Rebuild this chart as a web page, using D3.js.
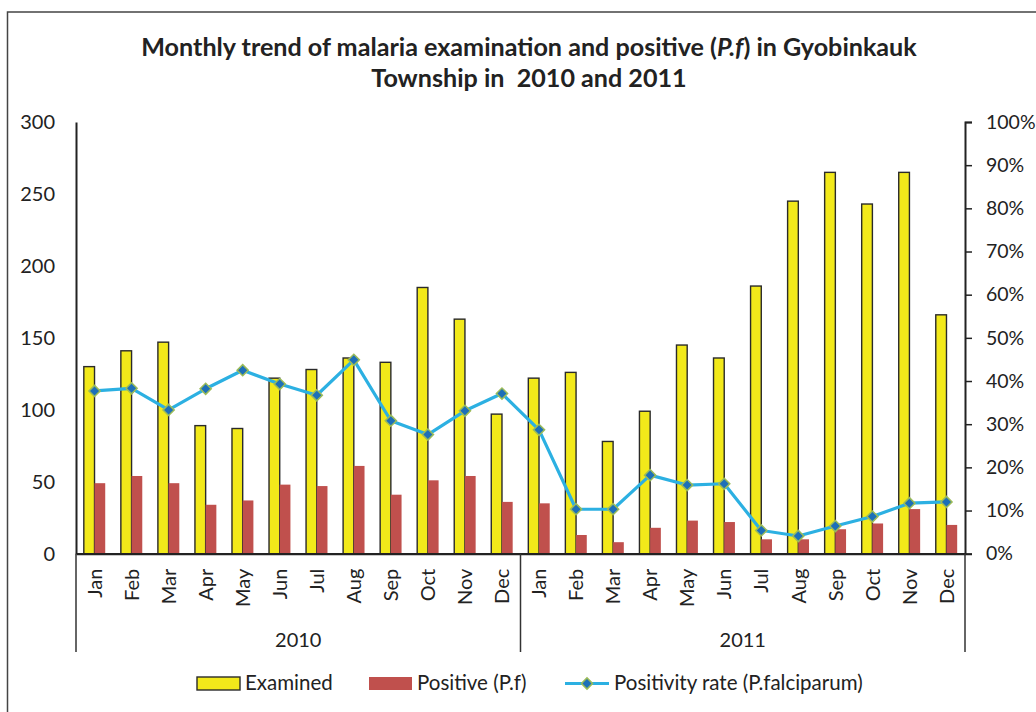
<!DOCTYPE html>
<html>
<head>
<meta charset="utf-8">
<script src="https://cdn.jsdelivr.net/npm/d3@7"></script>
<style>
  body { margin: 0; background: #fff; }
  text { font-family: Lato, "Open Sans", sans-serif; fill: #222; }
</style>
</head>
<body>
<div id="chart"></div>
<script>
// data
const years = ['2010', '2011']
const months = ['Jan', 'Feb', 'Mar', 'Apr', 'May', 'Jun', 'Jul', 'Aug', 'Sep', 'Oct', 'Nov', 'Dec']
const examined2010 = [130, 141, 147, 89, 87, 122, 128, 136, 133, 185, 163, 97]
const examined2011 = [122, 126, 78, 99, 145, 136, 186, 245, 265, 243, 265, 166]
const positive2010 = [49, 54, 49, 34, 37, 48, 47, 61, 41, 51, 54, 36]
const positive2011 = [35, 13, 8, 18, 23, 22, 10, 10, 17, 21, 31, 20]
const rate2010 = [0.377, 0.383, 0.333, 0.382, 0.425, 0.393, 0.367, 0.449, 0.308, 0.276, 0.331, 0.371]
const rate2011 = [0.287, 0.103, 0.103, 0.182, 0.159, 0.162, 0.054, 0.041, 0.064, 0.086, 0.117, 0.120]
const leftTicks = [0, 50, 100, 150, 200, 250, 300]
const rightTicks = [0, 0.1, 0.2, 0.3, 0.4, 0.5, 0.6, 0.7, 0.8, 0.9, 1]
const seriesNames = ['Examined', 'Positive (P.f)', 'Positivity rate (P.falciparum)']

const W = 1036
const H = 712
const plotLeft = 76
const plotRight = 965
const plotTop = 122
const plotBottom = 553.7

const yellow = '#f2e91a'
const red = '#c0504d'
const blue = '#2cb0e2'
const markerFill = '#1d6fb8'
const markerStroke = '#9bbb59'

const rows = []
years.forEach(function (yr, i) {
  const ex = i === 0 ? examined2010 : examined2011
  const po = i === 0 ? positive2010 : positive2011
  const ra = i === 0 ? rate2010 : rate2011
  months.forEach(function (m, j) {
    rows.push({key: yr + '-' + m, year: yr, month: m, examined: ex[j], positive: po[j], rate: ra[j]})
  })
})

const svg = d3.select('#chart').append('svg')
  .attr('width', W)
  .attr('height', H)

// outer chart border
svg.append('rect')
  .attr('x', 7.5).attr('y', 12)
  .attr('width', W + 20).attr('height', H + 20)
  .attr('fill', 'none')
  .attr('stroke', '#444')
  .attr('stroke-width', 1.5)

// title
const title = svg.append('g').attr('font-weight', 'bold')
const t1 = title.append('text')
  .attr('x', 529).attr('y', 56)
  .attr('text-anchor', 'middle')
  .attr('font-size', 20)
t1.append('tspan').text('Monthly trend of malaria examination and positive (')
t1.append('tspan').attr('font-style', 'italic').text('P.f')
t1.append('tspan').text(') in Gyobinkauk')
const fs = 20 * 776 / t1.node().getComputedTextLength()
t1.attr('font-size', fs)
title.append('text')
  .attr('x', 529).attr('y', 87)
  .attr('text-anchor', 'middle')
  .attr('font-size', fs)
  .style('white-space', 'pre')
  .text('Township in  2010 and 2011')

const x = d3.scaleBand()
  .domain(rows.map(d => d.key))
  .range([plotLeft, plotRight])

const xSub = d3.scaleBand()
  .domain(['examined', 'positive'])
  .range([0, x.bandwidth()])
  .paddingOuter(0.73)

const y = d3.scaleLinear().domain([0, 300]).range([plotBottom, plotTop])
const yR = d3.scaleLinear().domain([0, 1]).range([plotBottom, plotTop])

// bars
const groups = svg.append('g').selectAll('g')
  .data(rows)
  .enter()
  .append('g')
  .attr('transform', d => 'translate(' + x(d.key) + ',0)')

groups.append('rect')
  .attr('x', xSub('examined'))
  .attr('y', d => y(d.examined))
  .attr('width', xSub.bandwidth())
  .attr('height', d => y(0) - y(d.examined))
  .attr('fill', yellow)
  .attr('stroke', '#2a2a2a')
  .attr('stroke-width', 1.4)

groups.append('rect')
  .attr('x', xSub('positive'))
  .attr('y', d => y(d.positive))
  .attr('width', xSub.bandwidth())
  .attr('height', d => y(0) - y(d.positive))
  .attr('fill', red)

// left axis
const axL = svg.append('g')
  .attr('transform', 'translate(' + plotLeft + ',0)')
  .call(d3.axisLeft(y).tickValues(leftTicks).tickSize(0).tickPadding(21))
axL.select('.domain').attr('stroke', '#222').attr('stroke-width', 2)
axL.selectAll('text').attr('font-size', 20).attr('fill', '#222')

// right axis, carried down as the outer category divider
const axR = svg.append('g')
  .attr('transform', 'translate(' + plotRight + ',0)')
  .call(d3.axisRight(yR).tickValues(rightTicks).tickSize(7).tickPadding(14).tickFormat(d3.format('.0%')))
axR.select('.domain').attr('stroke', '#222').attr('stroke-width', 2)
axR.selectAll('line').attr('stroke', '#222').attr('stroke-width', 1.5)
axR.selectAll('text').attr('font-size', 19.5).attr('fill', '#222')

// category axis
const axB = svg.append('g')
  .attr('transform', 'translate(0,' + plotBottom + ')')
  .call(d3.axisBottom(x).tickSize(0).tickFormat(d => d.split('-')[1]))
axB.select('.domain').attr('stroke', '#222').attr('stroke-width', 2.2)
axB.selectAll('text')
  .attr('font-size', 20)
  .attr('fill', '#222')
  .attr('text-anchor', 'end')
  .attr('transform', 'rotate(-90)')
  .attr('x', -15)
  .attr('y', 0)
  .attr('dy', '0.36em')

// year dividers and labels
const yearEdges = [plotLeft].concat(years.map(yr => x(yr + '-Dec') + x.bandwidth()))
svg.append('g').selectAll('line')
  .data(yearEdges)
  .enter()
  .append('line')
  .attr('x1', d => d).attr('x2', d => d)
  .attr('y1', plotBottom).attr('y2', 652)
  .attr('stroke', '#333')
  .attr('stroke-width', 1.5)

svg.append('g').selectAll('text')
  .data(years)
  .enter()
  .append('text')
  .attr('x', d => (x(d + '-Jan') + x(d + '-Dec') + x.bandwidth()) / 2)
  .attr('y', 647)
  .attr('text-anchor', 'middle')
  .attr('font-size', 20)
  .text(d => d)

// positivity rate line
const cx = d => x(d.key) + x.bandwidth() / 2
svg.append('path')
  .datum(rows)
  .attr('fill', 'none')
  .attr('stroke', blue)
  .attr('stroke-width', 3.2)
  .attr('stroke-linejoin', 'round')
  .attr('d', d3.line().x(cx).y(d => yR(d.rate)))

const diamond = d3.symbol(d3.symbolSquare, 62)
svg.append('g').selectAll('path')
  .data(rows)
  .enter()
  .append('path')
  .attr('d', diamond)
  .attr('transform', d => 'translate(' + cx(d) + ',' + yR(d.rate) + ') rotate(45)')
  .attr('fill', markerFill)
  .attr('stroke', markerStroke)
  .attr('stroke-width', 1.5)

// legend
const lg = svg.append('g')
lg.append('rect')
  .attr('x', 197).attr('y', 677).attr('width', 43).attr('height', 13)
  .attr('fill', yellow).attr('stroke', '#2a2a2a').attr('stroke-width', 1.4)
lg.append('rect')
  .attr('x', 369).attr('y', 677).attr('width', 43).attr('height', 13)
  .attr('fill', red)
lg.append('line')
  .attr('x1', 565).attr('x2', 609).attr('y1', 683.5).attr('y2', 683.5)
  .attr('stroke', blue).attr('stroke-width', 3.2)
lg.append('path')
  .attr('d', diamond)
  .attr('transform', 'translate(587,683.5) rotate(45)')
  .attr('fill', markerFill)
  .attr('stroke', markerStroke)
  .attr('stroke-width', 1.5)
lg.selectAll('text')
  .data(seriesNames)
  .enter()
  .append('text')
  .attr('x', (d, i) => [245, 417, 614][i])
  .attr('y', 690)
  .attr('font-size', 20.5)
  .text(d => d)
</script>
</body>
</html>
